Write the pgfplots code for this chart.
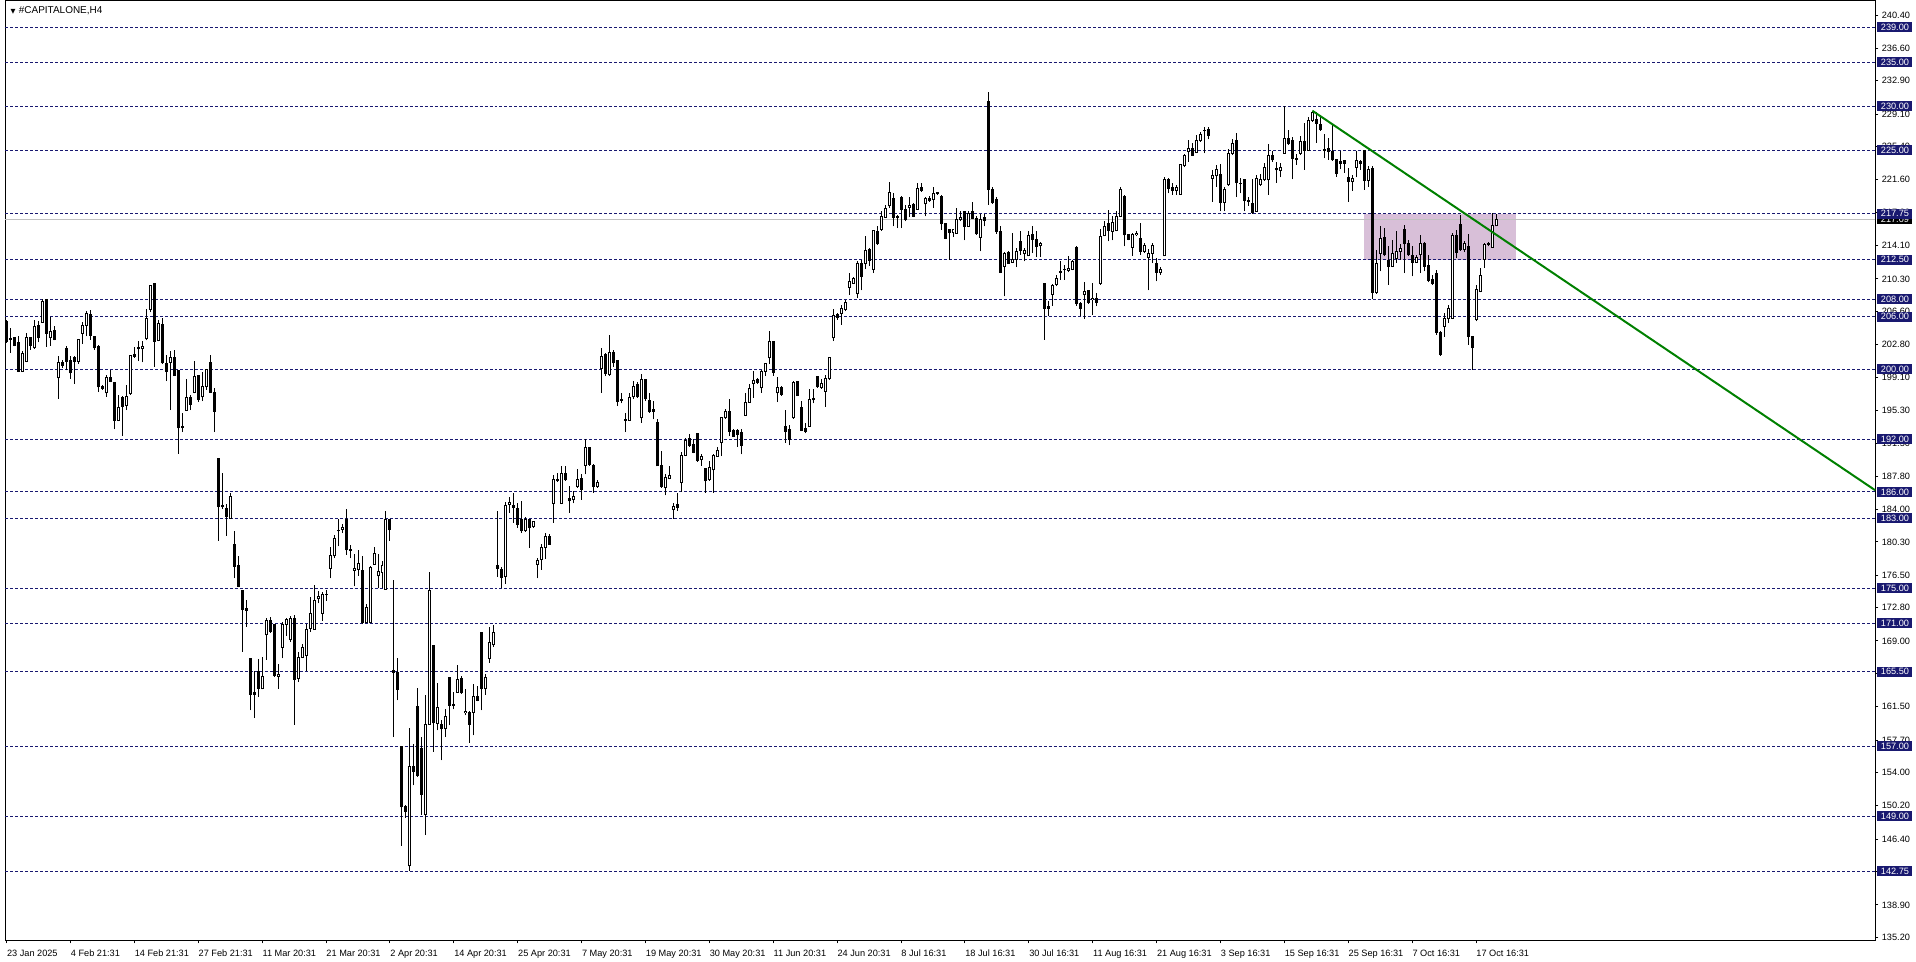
\documentclass[border=0pt]{standalone}
\usepackage{fontspec}
\setmainfont{Liberation Sans}
\newfontfamily\dejavu{DejaVu Sans}
\usepackage{pgfplots}
\usepackage{pgfplotstable}
\pgfplotsset{compat=1.18}

\definecolor{lvl}{RGB}{25,25,112}
\definecolor{cur}{RGB}{192,192,192}
\definecolor{zone}{RGB}{216,191,216}
\definecolor{trend}{RGB}{0,128,0}

% H4 candles: bar index, open, high, low, close
\pgfplotstableread{
n o h l c
1 205.46 205.65 202.99 203.18
2 203.45 204.70 201.86 203.37
3 203.56 203.56 202.61 202.69
4 202.99 203.75 199.66 199.77
5 199.77 202.12 199.66 201.78
6 200.91 204.13 200.79 203.56
7 203.56 203.56 202.24 202.69
8 202.43 205.65 202.31 204.89
9 204.97 205.46 203.07 203.56
10 205.35 208.00 205.27 207.74
11 207.93 208.00 202.54 204.13
12 203.56 205.95 202.69 204.25
13 204.40 204.89 203.30 203.37
14 199.01 201.55 196.62 200.72
15 200.79 201.02 200.15 200.45
16 202.31 202.61 199.88 200.91
17 201.02 201.55 198.90 199.58
18 201.29 201.55 198.37 200.91
19 200.91 203.45 200.64 203.37
20 204.13 205.35 202.92 204.97
21 204.97 206.60 203.75 206.41
22 206.22 206.79 203.37 203.87
23 203.75 203.75 202.24 202.43
24 202.61 202.80 197.38 197.99
25 198.06 198.25 197.68 197.83
26 197.30 199.39 196.85 199.01
27 199.01 199.96 198.52 198.63
28 198.44 198.44 193.13 194.19
29 194.15 197.11 194.08 195.67
30 196.73 196.99 192.37 195.79
31 195.86 198.25 195.33 196.85
32 197.19 201.55 197.11 201.55
33 201.67 202.54 201.29 201.48
34 202.43 203.18 200.91 202.31
35 202.31 203.18 200.79 202.54
36 203.45 206.86 203.30 205.73
37 206.86 209.63 206.48 209.52
38 209.75 209.82 200.26 203.18
39 203.30 205.65 203.18 205.19
40 205.08 205.84 200.64 200.72
41 200.60 201.67 198.63 199.77
42 200.79 202.05 195.33 201.29
43 201.29 202.16 199.20 199.28
44 199.88 199.96 190.36 193.32
45 193.51 195.03 192.83 193.32
46 195.33 198.90 195.22 196.73
47 196.73 197.11 195.33 195.98
48 197.38 200.91 197.23 199.12
49 199.28 199.28 196.24 196.54
50 196.85 199.66 196.36 197.99
51 197.99 200.03 197.68 199.96
52 200.72 201.67 197.30 197.38
53 197.30 197.87 192.83 195.22
54 189.83 189.83 180.42 184.33
55 184.41 188.12 184.03 184.29
56 184.14 184.59 180.99 183.19
57 182.96 185.85 182.89 185.47
58 180.04 181.56 176.14 177.50
59 177.57 178.64 175.11 175.23
60 174.73 174.73 167.79 172.57
61 172.65 173.67 170.63 172.49
62 166.96 166.96 161.08 162.90
63 163.09 165.63 160.20 162.90
64 165.50 166.90 162.60 163.60
65 163.54 167.15 163.47 164.99
66 169.69 171.59 166.88 171.32
67 171.32 171.70 169.92 170.07
68 170.83 170.83 164.87 165.06
69 164.99 166.39 163.54 165.21
70 168.29 171.13 167.03 170.83
71 170.87 171.59 169.61 171.43
72 169.16 171.89 168.86 171.59
73 171.59 171.97 159.45 164.61
74 164.76 167.72 164.30 167.15
75 167.15 168.67 167.03 168.29
76 167.34 170.94 165.63 170.30
77 170.45 173.98 170.00 172.16
78 170.30 175.38 170.30 173.67
79 173.79 174.66 173.29 174.09
80 172.16 174.62 171.32 174.36
81 174.36 174.85 173.60 174.28
82 177.28 179.67 176.14 178.72
83 178.72 181.07 178.42 180.69
84 181.64 182.97 179.78 181.56
85 181.75 182.40 181.30 181.94
86 182.89 184.11 178.83 179.40
87 179.48 179.93 178.42 179.33
88 177.09 178.91 175.23 177.28
89 177.20 179.36 176.44 177.85
90 177.09 178.64 170.90 171.06
91 171.06 173.22 171.02 172.84
92 171.06 177.50 171.02 177.39
93 177.77 179.67 177.77 178.98
94 176.44 178.91 175.00 176.90
95 176.82 178.15 175.04 177.58
96 174.93 183.84 174.85 182.89
97 182.89 182.97 180.43 181.68
98 165.63 175.95 158.04 165.44
99 165.44 167.03 162.22 163.47
100 157.02 157.02 145.64 150.08
101 150.08 150.27 148.83 149.58
102 143.36 159.07 142.76 154.74
103 154.74 157.29 152.54 154.14
104 161.57 163.62 153.49 153.68
105 156.72 158.04 149.20 151.52
106 149.24 162.86 146.85 159.45
107 159.48 176.82 159.45 174.74
108 168.48 168.55 156.34 159.67
109 159.64 164.23 158.80 161.46
110 159.45 159.94 155.39 158.99
111 158.99 161.27 158.04 160.43
112 164.87 164.87 159.37 161.65
113 161.80 163.17 161.19 161.65
114 163.17 166.28 163.09 164.57
115 164.68 164.99 162.98 163.09
116 160.81 163.54 160.51 161.00
117 160.89 160.96 157.40 159.48
118 160.89 164.11 158.23 162.71
119 162.71 163.85 162.10 162.22
120 169.92 169.92 161.08 163.54
121 163.54 165.25 162.86 164.87
122 167.03 170.56 166.50 168.78
123 168.55 170.83 168.29 169.99
124 177.66 183.84 176.33 177.28
125 177.20 177.47 175.04 176.25
126 176.33 184.86 175.49 184.48
127 184.60 185.47 183.65 184.79
128 184.48 185.93 182.51 184.22
129 184.11 184.79 181.87 182.32
130 182.89 184.98 181.30 181.56
131 181.56 183.19 181.45 182.81
132 182.81 182.96 179.66 181.94
133 182.05 182.70 181.94 182.58
134 177.77 178.41 176.13 178.22
135 178.33 180.04 177.12 179.66
136 179.66 181.37 178.33 180.91
137 180.91 181.18 180.04 180.04
138 184.71 187.90 182.51 187.44
139 187.37 188.13 187.14 187.25
140 184.71 188.96 184.60 188.13
141 188.13 188.96 187.25 187.37
142 185.24 186.69 183.65 184.98
143 185.17 186.12 184.71 185.47
144 186.61 188.58 186.50 187.44
145 187.52 188.01 185.09 186.31
146 189.04 192.07 188.01 191.05
147 191.05 191.16 188.96 189.15
148 189.04 189.15 185.93 186.61
149 186.61 187.37 186.50 187.06
150 200.04 202.43 197.31 201.48
151 201.67 201.86 199.20 199.51
152 199.39 203.95 199.28 201.86
153 201.86 202.24 200.27 200.72
154 200.99 201.10 195.79 196.36
155 196.55 197.31 196.09 196.47
156 194.27 195.03 192.83 194.20
157 194.20 197.31 194.08 196.74
158 196.85 198.64 196.62 198.07
159 198.26 198.52 196.74 196.85
160 194.46 199.51 193.89 198.82
161 198.82 198.82 196.36 196.62
162 196.43 197.23 195.03 195.22
163 195.41 196.36 194.27 195.22
164 193.89 194.27 188.96 188.96
165 189.04 190.67 186.50 186.61
166 186.50 188.01 185.62 187.63
167 187.52 188.96 187.44 187.90
168 184.03 184.79 182.97 184.33
169 184.60 185.93 183.84 184.22
170 187.06 190.55 186.00 190.17
171 190.17 192.18 190.10 191.92
172 192.07 192.57 191.16 191.31
173 191.43 192.07 190.40 190.55
174 192.68 192.68 189.42 189.64
175 189.72 190.29 188.96 190.02
176 188.66 188.66 185.93 187.25
177 187.37 189.53 187.25 188.77
178 188.51 190.29 185.93 190.17
179 190.10 191.16 190.02 190.78
180 191.62 194.58 190.10 194.46
181 194.46 195.41 194.35 195.22
182 195.22 196.55 192.38 192.95
183 193.06 193.13 192.30 192.38
184 193.02 193.13 191.16 192.57
185 192.76 193.21 190.29 191.31
186 194.73 197.23 194.65 196.24
187 196.24 198.26 196.17 197.76
188 198.37 199.77 196.74 198.75
189 198.82 199.01 198.37 198.52
190 197.88 199.89 197.31 199.77
191 199.77 200.72 199.20 200.61
192 201.29 204.40 200.57 203.19
193 203.19 203.19 199.28 199.66
194 197.31 199.13 196.24 197.88
195 197.88 198.07 197.00 197.12
196 193.44 195.33 191.62 192.95
197 193.13 193.59 191.31 191.99
198 194.46 198.64 194.35 198.52
199 198.64 198.71 196.93 197.00
200 195.60 196.43 192.95 193.06
201 193.21 193.89 192.68 192.95
202 193.51 197.76 193.44 196.55
203 196.62 197.76 196.09 196.51
204 199.13 199.28 197.88 197.99
205 197.95 198.90 197.76 198.37
206 197.50 199.39 195.71 198.90
207 198.90 201.40 198.82 201.29
208 203.57 206.87 203.19 206.11
209 206.22 206.41 205.66 205.85
210 206.41 207.36 205.09 206.87
211 206.79 207.93 206.60 207.56
212 209.37 210.97 208.50 210.02
213 209.83 210.51 209.75 210.40
214 208.69 212.30 208.12 212.11
215 212.11 212.49 209.00 210.59
216 212.03 215.14 211.42 213.55
217 213.62 213.81 211.80 212.41
218 211.42 215.90 210.97 215.82
219 215.71 216.28 214.19 214.31
220 215.97 217.99 215.82 217.42
221 217.34 218.74 217.23 218.36
222 218.63 221.40 218.36 220.15
223 219.50 220.07 216.28 217.34
224 217.42 217.61 216.09 217.34
225 219.58 219.77 216.09 218.25
226 218.25 218.74 216.85 217.11
227 218.48 219.69 217.34 218.63
228 218.74 218.93 217.34 217.42
229 218.25 221.21 218.18 220.64
230 220.75 221.29 220.26 220.38
231 218.86 219.69 217.42 219.50
232 219.50 219.77 219.12 219.24
233 219.39 220.75 218.36 220.07
234 220.15 220.26 219.88 220.07
235 219.69 219.88 215.90 216.58
236 216.58 216.58 214.84 214.95
237 215.97 215.97 212.49 215.59
238 215.59 215.97 215.06 215.90
239 215.52 218.36 215.44 217.11
240 217.04 218.10 216.85 217.34
241 217.99 218.10 214.69 216.28
242 216.28 217.99 216.20 217.72
243 217.99 219.12 217.11 217.23
244 217.23 217.42 215.33 215.44
245 215.06 217.72 213.43 217.11
246 217.34 217.72 216.28 216.96
247 230.50 231.64 218.74 220.53
248 220.53 220.75 218.86 219.01
249 219.39 219.62 215.44 215.71
250 215.71 216.28 210.97 211.04
251 211.73 213.32 208.31 213.24
252 213.32 213.43 212.03 212.11
253 212.18 215.52 212.11 212.49
254 212.56 213.81 211.65 213.43
255 214.57 215.71 213.05 213.55
256 213.17 213.81 212.30 213.55
257 212.94 215.82 212.86 215.21
258 215.33 216.35 213.24 214.84
259 214.84 215.71 212.79 214.00
260 214.08 214.46 212.79 214.31
261 209.75 209.75 203.38 206.98
262 207.17 207.74 206.11 206.98
263 208.50 209.75 207.25 209.53
264 209.64 210.78 209.45 210.29
265 211.16 212.30 210.21 211.04
266 211.42 211.92 210.21 211.35
267 211.27 212.86 211.04 211.54
268 211.42 212.49 211.27 212.30
269 213.93 214.00 207.25 207.48
270 207.48 207.63 206.04 206.98
271 208.50 209.90 205.73 208.88
272 208.99 209.07 207.48 207.63
273 207.93 209.83 206.22 208.12
274 208.12 208.69 207.17 207.63
275 209.75 215.97 209.64 215.14
276 215.22 216.85 215.14 216.28
277 216.66 218.18 214.57 215.82
278 215.71 217.42 214.69 216.73
279 215.82 217.99 215.71 217.42
280 217.42 220.75 217.34 220.53
281 219.69 219.88 214.00 215.33
282 215.33 215.44 214.69 214.84
283 213.93 215.52 212.94 215.33
284 215.33 215.71 215.14 215.52
285 214.95 216.66 213.05 213.43
286 213.43 214.38 213.24 214.08
287 212.79 213.70 209.00 213.24
288 213.24 214.38 212.11 214.08
289 212.03 212.67 210.02 211.04
290 211.04 211.65 210.78 211.42
291 212.94 221.89 212.86 221.66
292 221.66 221.78 220.07 220.64
293 220.75 221.21 219.88 220.38
294 220.38 221.02 219.88 220.75
295 219.96 223.37 219.88 223.30
296 223.18 224.55 223.03 224.32
297 224.81 226.14 223.68 225.19
298 225.19 225.84 224.32 224.43
299 224.70 226.71 224.62 226.07
300 226.03 227.09 225.95 226.82
301 227.28 227.58 224.62 227.20
302 227.36 227.58 226.22 226.71
303 221.78 222.73 219.12 222.08
304 222.04 223.30 220.83 222.80
305 222.16 223.41 217.99 219.01
306 219.01 220.83 217.99 220.45
307 221.02 225.08 220.91 224.62
308 224.62 226.22 224.43 225.76
309 226.14 226.98 219.62 221.29
310 221.21 221.78 220.07 221.13
311 221.59 221.66 217.99 219.24
312 219.24 219.62 218.63 219.12
313 218.93 221.66 217.72 217.87
314 217.99 222.16 217.99 221.78
315 221.02 222.27 220.91 221.59
316 221.59 223.56 221.51 223.03
317 221.59 225.69 219.88 224.32
318 224.43 224.93 223.68 223.87
319 222.92 223.68 221.29 222.73
320 222.65 223.56 221.89 223.03
321 224.62 230.01 224.55 226.33
322 226.33 227.28 225.57 225.69
323 226.03 226.45 221.66 224.06
324 224.06 224.55 223.30 223.94
325 224.62 226.60 224.43 225.95
326 225.95 228.11 222.73 225.00
327 225.00 228.72 224.93 228.34
328 228.42 229.48 228.23 229.25
329 228.49 229.37 225.84 228.04
330 227.96 228.87 227.20 227.39
331 225.08 226.82 224.06 224.93
332 225.19 226.33 223.87 224.81
333 224.81 227.85 223.79 223.87
334 223.87 223.94 221.97 222.35
335 223.68 224.93 222.80 223.49
336 223.79 223.87 222.42 223.49
337 221.89 222.91 219.12 221.40
338 221.40 222.16 220.37 221.78
339 223.03 224.93 221.89 223.79
340 223.67 223.86 222.73 223.41
341 224.89 225.00 220.45 221.51
342 221.51 223.18 220.83 222.73
343 222.91 223.18 208.00 208.76
344 208.76 213.62 208.61 212.10
345 213.17 216.28 211.15 214.95
346 215.06 216.09 212.86 213.05
347 212.41 214.00 209.64 211.72
348 211.72 214.76 211.65 213.17
349 212.67 215.71 212.10 213.43
350 213.43 214.30 212.48 213.81
351 215.90 216.47 210.97 214.30
352 214.38 214.76 212.94 213.05
353 212.94 214.00 210.59 212.18
354 212.18 213.05 212.10 212.79
355 213.05 215.33 210.97 214.30
356 214.30 214.46 211.15 211.72
357 211.80 213.05 209.90 210.13
358 210.21 210.78 209.64 209.75
359 210.97 211.35 203.95 204.21
360 204.21 204.33 201.56 201.67
361 204.89 206.41 203.68 205.73
362 205.73 207.36 205.27 206.98
363 205.84 215.52 205.73 215.21
364 215.21 215.90 212.67 213.32
365 216.47 217.60 213.54 213.62
366 213.62 214.68 213.32 214.38
367 214.00 215.44 202.81 203.76
368 203.76 203.76 199.96 202.43
369 205.65 209.64 205.46 209.07
370 208.88 211.53 208.76 210.66
371 212.56 214.38 211.53 214.19
372 214.19 214.46 214.00 214.30
373 213.92 217.87 213.81 216.35
374 216.35 217.72 216.28 217.09
}\candles

\begin{document}
\begin{tikzpicture}[font=\fontsize{4.6}{5.4}\selectfont]
\begin{axis}[
  set layers,
  at={(1pt,10.65pt)}, anchor=south west,
  scale only axis, width=936.5pt, height=470.35pt,
  xmin=0.675, xmax=468.925, ymin=134.89, ymax=242.0,
  clip=false,
  axis line style={line width=0.5pt, black},
  tick align=outside, major tick length=1.7pt,
  tick style={line width=0.5pt, black},
  xtick pos=bottom, ytick pos=right,
  xtick={1,17,...,369},
  xticklabels={23 Jan 2025, 4 Feb 21:31, 14 Feb 21:31, 27 Feb 21:31, 11 Mar 20:31, 21 Mar 20:31, 2 Apr 20:31, 14 Apr 20:31, 25 Apr 20:31, 7 May 20:31, 19 May 20:31, 30 May 20:31, 11 Jun 20:31, 24 Jun 20:31, 8 Jul 16:31, 18 Jul 16:31, 30 Jul 16:31, 11 Aug 16:31, 21 Aug 16:31, 3 Sep 16:31, 15 Sep 16:31, 25 Sep 16:31, 7 Oct 16:31, 17 Oct 16:31},
  xticklabel style={anchor=north west, inner sep=0pt, yshift=-3pt},
  ytick={240.4,236.6,232.9,229.1,225.4,221.6,217.9,214.1,210.3,206.6,202.8,199.1,195.3,191.5,187.8,184.0,180.3,176.5,172.8,169.0,165.3,161.5,157.7,154.0,150.2,146.4,142.7,138.9,135.2},
  yticklabel style={anchor=west, inner sep=0pt, xshift=1.5pt},
  /pgf/number format/fixed,
  /pgf/number format/fixed zerofill,
  /pgf/number format/precision=2,
  /pgf/number format/assume math mode=true,
  candle/.style={draw=none, mark=none, forget plot,
    error bars/.cd, y dir=plus, y explicit, error mark=none},
]
% support / resistance zone
\addplot[fill=zone, draw=none] coordinates {(340.85,212.5) (378.93,212.5) (378.93,217.75) (340.85,217.75)} -- cycle;
% current price line
\addplot[cur, line width=0.5pt] coordinates {(0.675,217.09) (468.925,217.09)};
% horizontal levels
\pgfplotsinvokeforeach{239,235,230,225,217.75,212.5,208,206,200,192,186,183,175,171,165.5,157,149,142.75}{
  \addplot[lvl, line width=0.5pt, dash pattern=on 1.5pt off 1pt] coordinates {(0.675,#1) (468.925,#1)};
}
% wicks
\addplot[candle, error bar style={draw=black, solid, line width=0.5pt}]
  table[x=n, y=l, y error expr=\thisrow{h}-\thisrow{l}] {\candles};
% bodies
\addplot[candle, error bar style={draw=black, solid, line width=1.5pt}]
  table[x=n, y expr={min(\thisrow{o},\thisrow{c})-0.057}, y error expr={abs(\thisrow{c}-\thisrow{o})+0.114}] {\candles};
% hollow part of rising candles
\addplot[candle, error bar style={draw=white, solid, line width=0.5pt}]
  table[x=n, y expr={\thisrow{o}+0.057}, y error expr={max(\thisrow{c}-\thisrow{o}-0.114,0)}] {\candles};
% trend line
\addplot[trend, line width=1pt] coordinates {(328,229.48) (468.925,186.2)};
% price boxes on the right
\node[fill=black, text=white, anchor=west, inner sep=0pt, minimum width=17.5pt, minimum height=5pt, xshift=1pt]
  at (axis cs:468.925,217.09) {217.09};
\pgfplotsinvokeforeach{239,235,230,225,217.75,212.5,208,206,200,192,186,183,175,171,165.5,157,149,142.75}{
  \node[fill=lvl, text=white, anchor=west, inner sep=0pt, minimum width=17.5pt, minimum height=5pt, xshift=1pt]
    at (axis cs:468.925,#1) {\pgfmathprintnumber[fixed,fixed zerofill,precision=2,assume math mode=true]{#1}};
}
% chart title
\node[anchor=west, inner sep=0pt, font=\fontsize{5}{6}\selectfont, xshift=2.5pt, yshift=-5pt]
  at (rel axis cs:0,1) {{\dejavu\fontsize{3.2}{3.2}\selectfont ▼}\hspace{1.6pt}\#CAPITALONE,H4};
\end{axis}
\path (0,0) rectangle (958pt,481.5pt);
\end{tikzpicture}
\end{document}
